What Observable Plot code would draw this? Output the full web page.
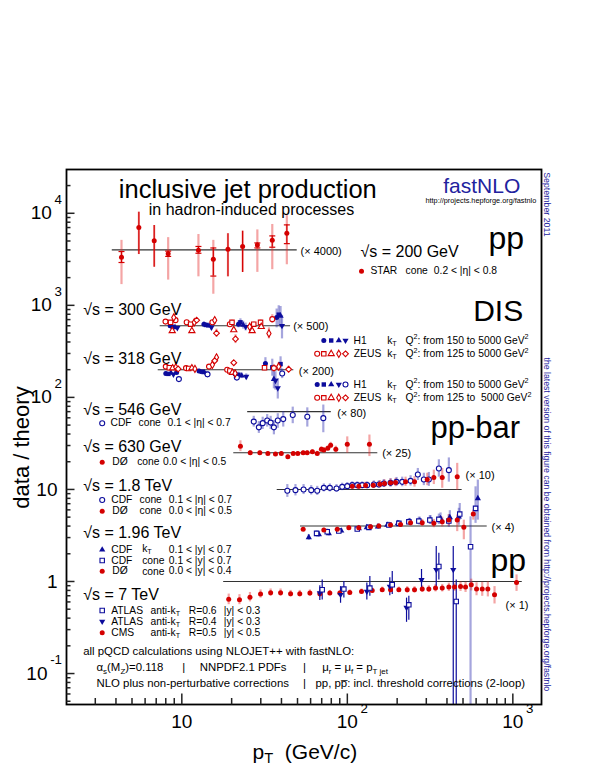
<!DOCTYPE html>
<html><head><meta charset="utf-8">
<script src="https://cdn.jsdelivr.net/npm/d3@7"></script>
<script src="https://cdn.jsdelivr.net/npm/@observablehq/plot@0.6"></script>
<style>body{margin:0;background:#fff}</style>
</head><body><div id="chart"></div>
<script>
// ---------------- data (ratio data/theory, before the multiplication factor) ----------------
// rows: [pT (GeV), ratio, totalLow, totalHigh, statLow, statHigh]
const starPp200 = [
  [4.32, 0.83, 0.42, 1.27, 0.73, 0.96],
  [5.50, 1.75, 0.89, 2.57, 0.89, 2.57],
  [6.81, 1.26, 0.65, 1.84, 0.65, 1.84],
  [8.27, 0.91, 0.47, 1.36, 0.85, 0.97],
  [12.6, 0.99, 0.51, 1.47, 0.92, 1.09],
  [15.5, 0.79, 0.33, 1.27, 0.52, 1.05],
  [19.0, 1.02, 0.51, 1.50, 0.51, 1.50],
  [23.3, 1.09, 0.57, 1.60, 0.57, 1.60],
  [28.6, 1.13, 0.57, 1.65, 1.05, 1.19],
  [35.2, 1.27, 0.61, 1.89, 1.07, 1.42],
  [43.1, 1.52, 0.69, 2.36, 1.17, 1.87]
];
// DIS rows: [pT, ratio, low, high, Q2-bin]
const h1Dis300 = [
  [8.5,1.00,0.96,1.04,0],[8.8,0.97,0.93,1.01,1],[9.1,0.96,0.92,1.00,2],[9.4,0.95,0.91,0.99,3],
  [13.6,1.04,0.98,1.10,0],[14.0,1.02,0.96,1.08,1],[14.6,1.00,0.94,1.06,2],[15.1,0.96,0.90,1.02,3],
  [22.0,1.04,0.95,1.13,0],[22.6,1.09,0.99,1.19,1],[23.5,1.02,0.92,1.12,2],[24.3,0.975,0.88,1.07,3],
  [37.4,1.23,0.95,1.52,0],[38.5,1.32,1.00,1.65,1],[39.5,1.28,0.95,1.62,2],[40.3,1.00,0.72,1.30,3]
];
const zeusDis300 = [
  [7.97,1.11,1.06,1.16,0],[8.55,1.09,1.05,1.13,1],[8.94,1.23,1.15,1.30,3],[9.16,1.15,1.10,1.20,0],
  [8.75,0.88,0.84,0.92,2],[10.7,1.09,1.05,1.13,0],[11.3,1.04,1.00,1.08,1],[11.9,1.09,1.05,1.13,3],
  [12.3,1.15,1.09,1.21,4],[11.5,0.88,0.84,0.92,2],[15.3,1.09,1.04,1.14,0],[15.8,1.15,1.09,1.22,3],
  [16.2,0.83,0.75,0.92,4],[19.5,1.04,0.99,1.09,0],[20.1,1.09,1.03,1.15,1],[20.6,0.90,0.85,0.95,2],
  [21.1,0.72,0.64,0.80,4],[25.7,0.975,0.92,1.03,3],[26.6,0.88,0.83,0.94,2],[27.2,1.04,0.98,1.10,1],
  [29.9,1.09,1.02,1.16,1],[30.2,0.975,0.91,1.04,2],[33.6,0.825,0.72,0.95,3],[35.2,1.18,1.06,1.32,0]
];
const h1Dis318 = [
  [8.0,0.91,0.88,0.94,0],[8.3,0.90,0.87,0.93,1],[8.6,0.92,0.89,0.95,2],[8.9,0.89,0.86,0.92,3],
  [9.3,0.93,0.90,0.96,0],[9.6,0.79,0.76,0.82,4],
  [12.7,0.97,0.93,1.01,0],[13.2,0.95,0.91,0.99,1],[13.7,0.93,0.89,0.97,2],[14.0,0.91,0.87,0.95,3],[14.3,0.89,0.86,0.92,4],
  [21.0,0.90,0.84,0.96,0],[22.0,0.88,0.82,0.94,1],[23.0,0.86,0.80,0.92,2],[24.5,0.84,0.78,0.90,3],[21.5,0.82,0.78,0.86,4],
  [32.0,1.17,1.00,1.35,0],[35.2,1.06,0.85,1.30,1],[36.0,0.79,0.62,0.98,2],[36.8,0.76,0.60,0.95,3],
  [38.0,0.63,0.48,0.80,3],[39.5,1.15,0.95,1.38,1],[40.4,0.91,0.80,1.02,4]
];
const zeusDis318 = [
  [8.0,1.08,1.04,1.12,0],[8.4,1.05,1.01,1.09,1],[8.8,1.04,1.00,1.08,2],[9.2,1.06,1.02,1.10,3],[9.5,1.02,0.98,1.06,4],
  [10.6,1.04,1.00,1.08,0],[11.0,1.03,0.99,1.07,1],[11.5,1.04,1.00,1.08,2],[12.0,1.02,0.98,1.06,3],
  [14.6,1.08,1.03,1.13,0],[15.3,1.13,1.07,1.19,3],[15.8,1.25,1.18,1.32,4],[16.2,1.36,1.28,1.44,3],
  [18.8,1.00,0.95,1.05,0],[19.5,0.97,0.92,1.02,1],[20.2,0.93,0.88,0.98,2],[21.0,0.91,0.86,0.96,3],[20.6,1.19,1.12,1.26,4],
  [31.6,1.05,0.97,1.13,1],[36.0,1.04,0.94,1.14,0],[38.5,1.08,0.97,1.19,3],[44.2,1.01,0.93,1.09,4]
];
// hadron collider rows: [pT, ratio, low, high]
const cdf546 = [
  [27.2,0.78,0.68,0.89],[29.2,0.675,0.58,0.78],[30.8,0.75,0.64,0.87],[32.8,0.80,0.68,0.93],
  [34.4,0.76,0.64,0.89],[36.0,0.675,0.56,0.80],[38.0,0.80,0.66,0.95],[41.0,0.83,0.68,1.00],
  [46.8,0.92,0.74,1.12],[57.3,0.88,0.68,1.10],[71.6,0.85,0.59,1.18]
];
const d0630 = [
  [22.6,1.18,1.03,1.35],[25.9,1.00,0.94,1.06],[29.6,1.00,0.95,1.05],[33.1,0.985,0.94,1.03],
  [36.8,0.97,0.93,1.01],[39.9,0.985,0.94,1.03],[43.7,0.905,0.86,0.95],[47.1,0.985,0.94,1.03],
  [50.2,0.985,0.94,1.03],[54.1,1.00,0.95,1.05],[57.2,1.00,0.95,1.05],[61.5,1.025,0.97,1.08],
  [65.8,0.985,0.93,1.04],[69.7,1.09,1.02,1.16],[72.1,1.07,1.00,1.14],[76.2,1.12,1.05,1.19],
  [79.3,1.21,1.12,1.30],[85.2,1.09,1.00,1.18],[99.9,1.24,0.99,1.49],[136,1.24,0.91,1.56]
];
const cdf1800 = [
  [43.4,0.966,0.82,1.13],[48.6,0.983,0.85,1.13],[54.4,1.00,0.88,1.13],[60.5,0.983,0.87,1.10],
  [65.8,0.966,0.86,1.08],[72.1,1.04,0.94,1.15],[78.4,1.04,0.94,1.15],[86.0,1.025,0.93,1.13],
  [93.1,1.067,0.97,1.17],[99.9,1.086,0.99,1.19],[107.1,1.113,1.02,1.21],[114.8,1.113,1.02,1.21],
  [123.0,1.113,1.02,1.21],[131.8,1.113,1.02,1.21],[144.6,1.133,1.03,1.24],[155.0,1.133,1.03,1.24],
  [166.1,1.162,1.05,1.28],[182.4,1.179,1.06,1.31],[198.3,1.209,1.08,1.35],[214.6,1.209,1.07,1.36],
  [241.0,1.24,1.09,1.41],[266.7,1.455,1.25,1.69],[289.9,1.284,1.10,1.50],[310.8,1.284,1.08,1.53],
  [357.3,1.69,1.36,2.10],[410.6,1.62,1.20,2.20]
];
const d01800 = [
  [107.1,1.086,1.00,1.18],[117.3,1.086,1.00,1.18],[128.9,1.105,1.02,1.20],[143.4,1.113,1.02,1.21],
  [157.2,1.14,1.04,1.25],[167.8,1.162,1.06,1.27],[182.4,1.179,1.07,1.30],[195.6,1.191,1.07,1.32],
  [224.8,1.209,1.08,1.36],[254.7,1.209,1.06,1.38],[304.0,1.284,1.10,1.50],[333.2,1.35,1.13,1.62],
  [374.5,1.35,1.03,1.69],[461.3,1.37,0.98,1.92]
];
const cdfKt1960 = [
  [58.5,0.754,0.70,0.81],[67.3,0.813,0.76,0.87],[77.3,0.833,0.78,0.89],[91.9,0.889,0.84,0.94],
  [117.3,0.944,0.89,1.00],[131.2,0.968,0.91,1.03],[152.9,0.983,0.92,1.05],[174.2,1.025,0.96,1.10],
  [201.9,1.07,0.99,1.15],[238.6,1.113,1.02,1.21],[274.2,1.133,1.03,1.25],[318.3,1.162,1.04,1.30],
  [365.8,1.212,1.06,1.39],[416.3,1.243,1.05,1.47],[471.8,1.262,1.02,1.56],[614.5,2.00,1.16,3.16]
];
const cdfCone1960 = [
  [65.2,0.833,0.78,0.89],[75.6,0.867,0.81,0.93],[88.8,0.882,0.83,0.94],[114.8,0.928,0.87,0.99],
  [135.0,0.968,0.91,1.03],[178.2,1.025,0.96,1.10],[204.8,1.07,0.99,1.15],[235.3,1.113,1.03,1.21],
  [270.4,1.133,1.03,1.25],[315.1,1.162,1.04,1.30],[357.3,1.182,1.04,1.35],[410.6,1.133,0.97,1.33],
  [477.8,1.35,1.16,1.76],[555.3,0.596,0,1.26],[595.3,1.557,1.07,2.67]
];
const d01960 = [
  [54.1,0.921,0.88,0.96],[72.1,0.905,0.86,0.95],[86.9,0.921,0.88,0.97],[102.1,0.958,0.91,1.01],
  [117.3,0.958,0.91,1.01],[138.1,0.983,0.93,1.04],[155.0,1.00,0.94,1.06],[182.4,1.025,0.96,1.09],
  [209.7,1.043,0.97,1.12],[241.0,1.086,1.00,1.17],[283.5,1.086,0.99,1.18],[333.2,1.07,0.96,1.18],
  [374.5,1.113,0.98,1.25],[410.6,1.162,1.00,1.33],[461.3,1.162,0.87,1.32],[505.8,0.968,0.71,1.16],
  [576.6,1.35,1.16,1.49]
];
const atlasR06 = [
  [70.5,0.813,0.63,1.04],[95.3,0.827,0.66,1.00],[136.8,0.848,0.69,1.13],[186.8,0.921,0.72,1.28],
  [235.3,0.558,0.38,0.69],[357.3,1.455,1.04,2.03],[455.0,0.606,0,1.04]
];
const atlasR04 = [
  [68.2,0.748,0.62,0.90],[91.0,0.717,0.58,0.88],[131.2,0.779,0.63,0.96],[180.6,0.882,0.70,1.10],
  [227.9,0.52,0.36,0.66],[280.7,1.043,0.80,1.35],[344.5,1.34,0.88,2.40],[436.5,1.34,0,2.40]
];
const cms7000 = [
  [19.2,0.64,0.56,0.73],[22.3,0.633,0.56,0.72],[25.8,0.673,0.60,0.76],[29.9,0.73,0.66,0.81],
  [34.4,0.754,0.69,0.83],[39.5,0.754,0.69,0.83],[45.4,0.735,0.68,0.80],[51.6,0.735,0.68,0.80],
  [59.4,0.748,0.69,0.81],[68.2,0.735,0.68,0.79],[78.4,0.748,0.70,0.80],[90.1,0.748,0.70,0.80],
  [103.5,0.76,0.71,0.81],[121.8,0.779,0.73,0.83],[141.4,0.798,0.75,0.85],[162.5,0.813,0.76,0.87],
  [182.4,0.813,0.76,0.87],[204.8,0.813,0.76,0.87],[230.1,0.813,0.75,0.88],[254.7,0.813,0.75,0.88],
  [283.5,0.827,0.76,0.90],[310.8,0.827,0.76,0.90],[341.1,0.848,0.77,0.93],[374.5,0.848,0.77,0.93],
  [410.6,0.869,0.78,0.96],[444.4,0.869,0.78,0.96],[483.1,0.882,0.78,0.99],[518.0,0.869,0.76,0.98],
  [560.7,0.921,0.79,1.06],[603.6,0.827,0.70,0.97],[653.3,0.827,0.69,0.98],[706.3,0.827,0.68,0.99],
  [775.2,0.717,0.57,0.88],[1053,0.975,0.78,1.18]
];
// theory reference lines: drawn factor, pT range, printed factor
const lineFactor = [4000, 600, 200, 70, 25, 10, 4, 1];
const lineFrom   = [3.8, 7.4, 7.2, 25.0, 20.6, 37.7, 52.1, 17.9];
const lineTo     = [49.8, 45.4, 47.5, 80.0, 152.8, 494, 700, 1140];
const factorLabels = ["(\u00d7 4000)", "(\u00d7 500)", "(\u00d7 200)", "(\u00d7 80)", "(\u00d7 25)", "(\u00d7 10)", "(\u00d7 4)", "(\u00d7 1)"];
// axes
const xMajor = [10, 100, 1000];
const xMinor = [3,4,5,6,7,8,9,20,30,40,50,60,70,80,90,200,300,400,500,600,700,800,900];
const xTickLabels = ["10", "10^^{2}", "10^^{3}"];
const yMajor = [0.1, 1, 10, 100, 1000, 10000];
const yMinor = [0.05,0.06,0.07,0.08,0.09,0.2,0.3,0.4,0.5,0.6,0.7,0.8,0.9,2,3,4,5,6,7,8,9,
  20,30,40,50,60,70,80,90,200,300,400,500,600,700,800,900,2000,3000,4000,5000,6000,7000,8000,9000,20000];
const yTickLabels = ["10^^{-1}", "1", "10", "10^^{2}", "10^^{3}", "10^^{4}"];

// ---------------- layout / style ----------------
const W = 595, H = 770, mL = 66, mR = 54, mT = 169, mB = 66;
const X_DOMAIN = [2.01, 1490], Y_DOMAIN = [0.0461, 29900];
const Y0 = Y_DOMAIN[0];
const RED = "#d40000", RED_L = "rgba(228,40,40,0.42)";
const BLUE = "#0c0c9c", BLUE_L = "rgba(40,40,175,0.42)";
const NAVY = "#22229e";
const LF = 10.3; // legend font size

const triDown = {draw(ctx, size) { const s3 = Math.sqrt(3); const y = -Math.sqrt(size / (s3 * 3)); ctx.moveTo(0, -y * 2); ctx.lineTo(-s3 * y, y); ctx.lineTo(s3 * y, y); ctx.closePath(); }};
const tickUp = {draw(ctx, size) { const l = Math.sqrt(size / Math.PI); ctx.moveTo(0, 0); ctx.lineTo(0, -l); }};
const tickRight = {draw(ctx, size) { const l = Math.sqrt(size / Math.PI); ctx.moveTo(0, 0); ctx.lineTo(l, 0); }};
const cap = {draw(ctx, size) { const l = Math.sqrt(size / Math.PI); ctx.moveTo(-l, 0); ctx.lineTo(l, 0); }};

const H1_SYM = ["circle", "square", "triangle", triDown, "circle"], H1_FILL = [1, 1, 1, 1, 0];
const ZEUS_SYM = ["circle", "square", "triangle", "diamond", "diamond2"];
const SIZE = {circle: 2.5, square: 2.5, triangle: 2.3, diamond: 2.2, diamond2: 2.6};
const symSize = s => (typeof s === "string" ? SIZE[s] : 2.3);

function note(str, px, py, o = {}) {
  return Plot.text([str], {
    text: d => d, frameAnchor: "top-left", dx: px - mL, dy: py - mT,
    textAnchor: o.anchor || "start", lineAnchor: o.line || "middle",
    fontSize: o.size || LF, fill: o.fill || "black", rotate: o.rotate || 0
  });
}
function lmark(px, py, symbol, filled, color) {
  return Plot.dot([0], {frameAnchor: "top-left", dx: px - mL, dy: py - mT, symbol, r: symSize(symbol),
    fill: filled ? color : "white", stroke: filled ? "none" : color, strokeWidth: 1.1});
}
function bars(rows, f, light) {
  return Plot.ruleX(rows, {x: d => d[0], y1: d => Math.max(d[2] * f, Y0), y2: d => d[3] * f, stroke: light, strokeWidth: 2.2});
}
function dots(rows, f, symbol, filled, color, filter) {
  return Plot.dot(rows, {x: d => d[0], y: d => d[1] * f, symbol, r: symSize(symbol), filter,
    fill: filled ? color : "white", stroke: filled ? "none" : color, strokeWidth: 1.1});
}

const marks = [];
// theory lines
marks.push(Plot.ruleY(lineFactor.map((_, i) => i), {y: i => lineFactor[i], x1: i => lineFrom[i], x2: i => lineTo[i], stroke: "#333", strokeWidth: 1.1}));
// error bars
marks.push(bars(starPp200, lineFactor[0], RED_L));
marks.push(Plot.ruleX(starPp200, {x: d => d[0], y1: d => d[4] * lineFactor[0], y2: d => d[5] * lineFactor[0], stroke: RED, strokeWidth: 1.2}));
for (const k of [4, 5]) marks.push(Plot.dot(starPp200, {x: d => d[0], y: d => d[k] * lineFactor[0], symbol: cap, r: 3, stroke: RED, fill: "none", strokeWidth: 1.2, filter: d => d[4] !== d[2]}));
marks.push(bars(h1Dis300, lineFactor[1], BLUE_L), bars(zeusDis300, lineFactor[1], RED_L));
marks.push(bars(h1Dis318, lineFactor[2], BLUE_L), bars(zeusDis318, lineFactor[2], RED_L));
marks.push(bars(cdf546, lineFactor[3], BLUE_L), bars(d0630, lineFactor[4], RED_L));
marks.push(bars(cdf1800, lineFactor[5], BLUE_L), bars(d01800, lineFactor[5], RED_L));
marks.push(bars(cdfKt1960, lineFactor[6], BLUE_L), bars(cdfCone1960, lineFactor[6], BLUE_L), bars(d01960, lineFactor[6], RED_L));
marks.push(bars(cms7000, lineFactor[7], RED_L));
marks.push(Plot.ruleX(atlasR06, {x: d => d[0], y1: d => Math.max(d[2], Y0), y2: d => d[3], stroke: BLUE, strokeWidth: 1.2}));
marks.push(Plot.ruleX(atlasR04, {x: d => d[0], y1: d => Math.max(d[2], Y0), y2: d => d[3], stroke: BLUE, strokeWidth: 1.2}));
// markers
marks.push(dots(starPp200, lineFactor[0], "circle", true, RED));
H1_SYM.forEach((s, b) => {
  marks.push(dots(h1Dis300, lineFactor[1], s, H1_FILL[b], BLUE, d => d[4] === b));
  marks.push(dots(h1Dis318, lineFactor[2], s, H1_FILL[b], BLUE, d => d[4] === b));
});
ZEUS_SYM.forEach((s, b) => {
  marks.push(dots(zeusDis300, lineFactor[1], s, false, RED, d => d[4] === b));
  marks.push(dots(zeusDis318, lineFactor[2], s, false, RED, d => d[4] === b));
});
marks.push(dots(cdf546, lineFactor[3], "circle", false, BLUE));
marks.push(dots(d0630, lineFactor[4], "circle", true, RED));
marks.push(dots(cdf1800, lineFactor[5], "circle", false, BLUE));
marks.push(dots(d01800, lineFactor[5], "circle", true, RED));
marks.push(dots(cdfKt1960, lineFactor[6], "triangle", true, BLUE));
marks.push(dots(cdfCone1960, lineFactor[6], "square", false, BLUE));
marks.push(dots(d01960, lineFactor[6], "circle", true, RED));
marks.push(dots(cms7000, lineFactor[7], "circle", true, RED));
marks.push(dots(atlasR04, lineFactor[7], triDown, true, BLUE));
marks.push(dots(atlasR06, lineFactor[7], "square", false, BLUE));

// frame and axes
marks.push(Plot.frame({stroke: "black", strokeWidth: 1.8}));
marks.push(Plot.dot(xMajor, {x: d => d, frameAnchor: "bottom", symbol: tickUp, r: 11, stroke: "#222", fill: "none"}));
marks.push(Plot.dot(xMinor, {x: d => d, frameAnchor: "bottom", symbol: tickUp, r: 6.5, stroke: "#222", fill: "none"}));
marks.push(Plot.dot(yMajor, {y: d => d, frameAnchor: "left", symbol: tickRight, r: 8, stroke: "#222", fill: "none"}));
marks.push(Plot.dot(yMinor, {y: d => d, frameAnchor: "left", symbol: tickRight, r: 4, stroke: "#222", fill: "none"}));
marks.push(Plot.text(xMajor, {x: d => d, text: (d, i) => xTickLabels[i], frameAnchor: "bottom", dy: 23.5, fontSize: 19,
  textAnchor: "middle", filter: (d, i) => !xTickLabels[i].includes("^")}));
marks.push(Plot.text(xMajor, {x: d => d, text: (d, i) => xTickLabels[i], frameAnchor: "bottom", dy: 23.5, dx: -10.6, fontSize: 19,
  textAnchor: "start", filter: (d, i) => xTickLabels[i].includes("^")}));
marks.push(Plot.text(yMajor, {y: d => d, text: (d, i) => yTickLabels[i], frameAnchor: "left", dx: -9, fontSize: 19,
  textAnchor: "end", filter: (d, i) => !yTickLabels[i].includes("^")}));
marks.push(Plot.text(yMajor, {y: d => d, text: (d, i) => yTickLabels[i], frameAnchor: "left", dx: -4.5, fontSize: 19,
  textAnchor: "end", filter: (d, i) => yTickLabels[i].includes("^")}));
marks.push(note("p_{T}\u00a0\u00a0(GeV/c)", 252, 758, {size: 21, line: "bottom"}));
marks.push(note("data / theory", 21, 447, {size: 22, anchor: "middle", rotate: -90}));

// titles
marks.push(note("inclusive jet production", 118.3, 197, {size: 25.5, line: "bottom"}));
marks.push(note("in hadron-induced processes", 148.3, 214.3, {size: 16, line: "bottom"}));
marks.push(note("fastNLO", 442.7, 192.5, {size: 21, line: "bottom", fill: NAVY}));
marks.push(note("http://projects.hepforge.org/fastnlo", 425, 200.5, {size: 7.3}));
marks.push(note("September 2011", 546.5, 171.7, {size: 8.8, rotate: 90, fill: NAVY}));
marks.push(note("the latest version of this figure can be obtained from http://projects.hepforge.org/fastnlo", 546.5, 357, {size: 8.7, rotate: 90, fill: NAVY}));

// factor labels
const factorPos = [[300, 250.8], [292.7, 326], [298.3, 370.7], [336.7, 413.3], [381.7, 453.3], [465, 475], [491, 526.7], [505, 605]];
factorLabels.forEach((s, i) => marks.push(note(s, factorPos[i][0], factorPos[i][1], {size: 11})));

// process labels
marks.push(note("pp", 488, 248.3, {size: 32, line: "bottom"}));
marks.push(note("DIS", 472.7, 320, {size: 30, line: "bottom"}));
marks.push(note("pp-bar", 430, 437, {size: 31, line: "bottom"}));
marks.push(note("pp", 490, 570, {size: 32, line: "bottom"}));

// sqrt(s) labels
marks.push(note("\u221as = 200 GeV", 360, 256.5, {size: 16, line: "bottom"}));
const sqrtsLeft = [["\u221as = 300 GeV", 314], ["\u221as = 318 GeV", 363.3], ["\u221as = 546 GeV", 414], ["\u221as = 630 GeV", 451.7],
  ["\u221as = 1.8 TeV", 490], ["\u221as = 1.96 TeV", 537.3], ["\u221as = 7 TeV", 599.3]];
sqrtsLeft.forEach(([s, y]) => marks.push(note(s, 82.7, y, {size: 16, line: "bottom"})));

// STAR legend
marks.push(lmark(361, 270.7, "circle", true, RED));
marks.push(note("STAR", 370, 270.7), note("cone", 405, 270.7), note("0.2 < |\u03b7| < 0.8", 433.3, 270.7));

// DIS legends
const h1x = [323.3, 330.7, 338.3, 345], rowx = [316.7, 323.3, 330.7, 338.3, 345];
[0, 1, 2, 3].forEach(b => marks.push(lmark(h1x[b], 340, H1_SYM[b], true, BLUE)));
ZEUS_SYM.forEach((s, b) => marks.push(lmark(rowx[b], 353.3, s, false, RED)));
H1_SYM.forEach((s, b) => marks.push(lmark(rowx[b], 384, s, H1_FILL[b], BLUE)));
ZEUS_SYM.forEach((s, b) => marks.push(lmark(rowx[b], 397.3, s, false, RED)));
marks.push(note("H1", 353, 340), note("k_{T}", 386.7, 340), note("Q^{2}: from 150 to 5000 GeV^{2}", 405, 340));
marks.push(note("ZEUS", 353.3, 353.3), note("k_{T}", 386.7, 353.3), note("Q^{2}: from 125 to 5000 GeV^{2}", 405, 353.3));
marks.push(note("H1", 353, 384), note("k_{T}", 386.7, 384), note("Q^{2}: from 150 to 5000 GeV^{2}", 405, 384));
marks.push(note("ZEUS", 353.3, 397.3), note("k_{T}", 386.7, 397.3), note("Q^{2}: from 125 to  5000 GeV^{2}", 405, 397.3));

// hadron collider legends
marks.push(lmark(101.7, 422.7, "circle", false, BLUE), note("CDF", 110, 422.7), note("cone", 138, 422.7), note("0.1 < |\u03b7| < 0.7", 167, 422.7));
marks.push(lmark(101.7, 461.7, "circle", true, RED), note("D\u00d8", 111.7, 461.7), note("cone", 136.7, 461.7), note("0.0 < |\u03b7| < 0.5", 162.5, 461.7));
marks.push(lmark(101.7, 499.5, "circle", false, BLUE), note("CDF", 110.7, 499.5), note("cone", 139, 499.5), note("0.1 < |\u03b7| < 0.7", 168.3, 499.5));
marks.push(lmark(101.7, 510.7, "circle", true, RED), note("D\u00d8", 111.7, 510.7), note("cone", 139, 510.7), note("0.0 < |\u03b7| < 0.5", 168.3, 510.7));
marks.push(lmark(101.7, 549.3, "triangle", true, BLUE), note("CDF", 110.7, 549.3), note("k_{T}", 141.7, 548), note("0.1 < |y| < 0.7", 168.3, 549.3));
marks.push(lmark(101.7, 560, "square", false, BLUE), note("CDF", 110.7, 560), note("cone", 141.7, 560.3), note("0.1 < |y| < 0.7", 168.3, 560));
marks.push(lmark(101.7, 570.7, "circle", true, RED), note("D\u00d8", 111.7, 570.7), note("cone", 141.7, 571), note("0.0 < |y| < 0.4", 168.3, 570.7));
marks.push(lmark(101.7, 610, "square", false, BLUE), note("ATLAS", 110.7, 610), note("anti-k_{T}", 150, 610), note("R=0.6", 188.3, 610), note("|y| < 0.3", 223.3, 610));
marks.push(lmark(101.7, 621, triDown, true, BLUE), note("ATLAS", 110.7, 621), note("anti-k_{T}", 150, 621), note("R=0.4", 188.3, 621), note("|y| < 0.3", 223.3, 621));
marks.push(lmark(101.7, 632.3, "circle", true, RED), note("CMS", 110.7, 632.3), note("anti-k_{T}", 150, 632.3), note("R=0.5", 188.3, 632.3), note("|y| < 0.5", 223.3, 632.3));

// calculation notes
marks.push(note("all pQCD calculations using NLOJET++ with fastNLO:", 82.7, 650.7, {size: 11.4}));
marks.push(note("\u03b1_{s}(M_{Z})=0.118", 96, 667.3, {size: 11.4}), note("|", 183.3, 667.3, {size: 11.4, anchor: "middle"}),
  note("NNPDF2.1 PDFs", 199.3, 667.3, {size: 11.4}), note("|", 304, 667.3, {size: 11.4, anchor: "middle"}),
  note("\u03bc_{r} = \u03bc_{f} = p_{T jet}", 321.7, 667.3, {size: 11.4}));
marks.push(note("NLO plus non-perturbative corrections", 96, 683.3, {size: 11.4}), note("|", 304, 683.3, {size: 11.4, anchor: "middle"}),
  note("pp, pp\u0305: incl. threshold corrections (2-loop)", 315, 683.3, {size: 11.4}));

const chart = Plot.plot({
  width: W, height: H, marginLeft: mL, marginRight: mR, marginTop: mT, marginBottom: mB,
  x: {type: "log", domain: X_DOMAIN, axis: null},
  y: {type: "log", domain: Y_DOMAIN, axis: null},
  style: {fontFamily: "'Liberation Sans', Arial, Helvetica, sans-serif", background: "white"},
  marks
});
document.getElementById("chart").appendChild(chart);

// rich text: _{sub}, ^{sup}, ^^{high sup}
function richify(svg) {
  const NS = "http://www.w3.org/2000/svg";
  svg.querySelectorAll("text").forEach(t => {
    const s = t.textContent;
    if (!/(\^\^|\^|_)\{/.test(s)) return;
    const fs = parseFloat(getComputedStyle(t).fontSize) || 11;
    while (t.firstChild) t.removeChild(t.firstChild);
    const re = /(\^\^|\^|_)\{([^}]*)\}/g;
    let last = 0, cur = 0, m;
    const add = (txt, off, small) => {
      if (!txt) return;
      const ts = document.createElementNS(NS, "tspan");
      ts.textContent = txt;
      const d = off - cur;
      if (d) ts.setAttribute("dy", d.toFixed(2));
      cur = off;
      if (small) ts.setAttribute("font-size", (fs * 0.7).toFixed(2));
      t.appendChild(ts);
    };
    while ((m = re.exec(s))) {
      add(s.slice(last, m.index), 0, false);
      const off = m[1] === "_" ? 0.22 * fs : m[1] === "^" ? -0.42 * fs : -0.8 * fs;
      add((m[1] === "^^" ? "\u2009" : "") + m[2], off, true);
      last = re.lastIndex;
    }
    add(s.slice(last), 0, false);
  });
}
richify(chart);
</script>
</body></html>
